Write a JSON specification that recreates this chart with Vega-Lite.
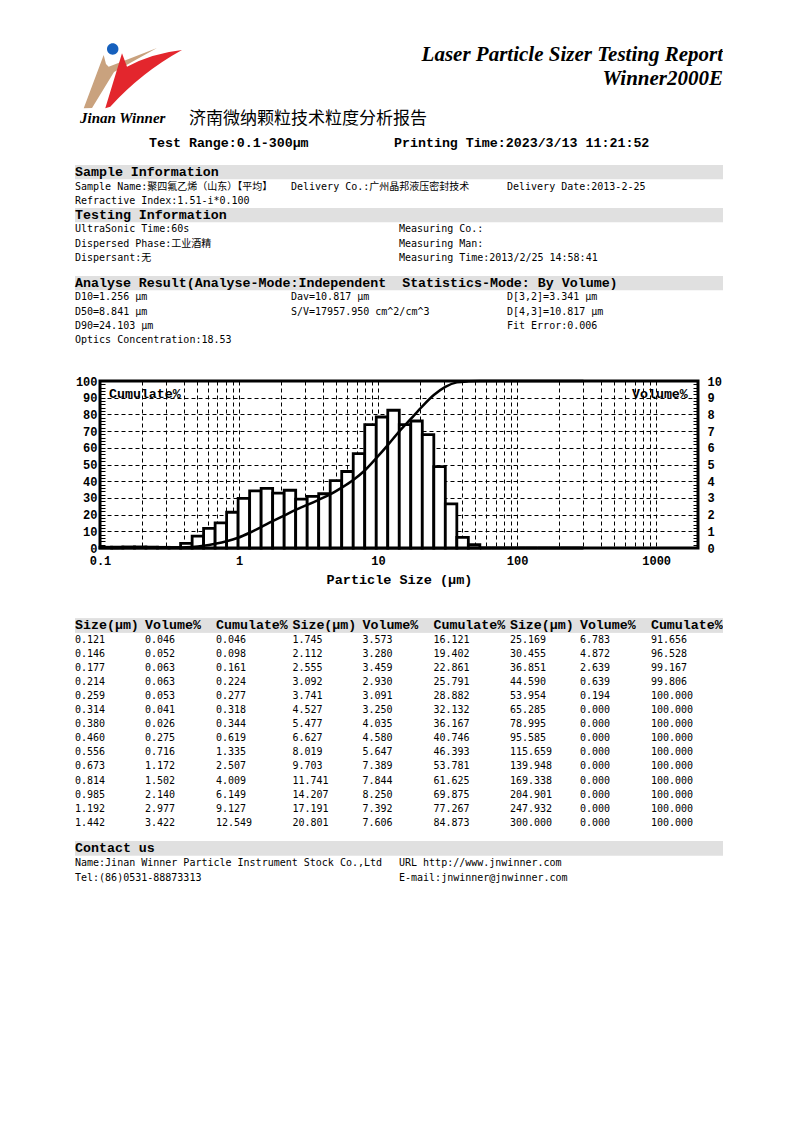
{
  "$schema": "https://vega.github.io/schema/vega-lite/v6.json",
  "autosize": {"type": "pad"},
  "padding": {"left": 73, "top": 0, "right": 0, "bottom": 0},
  "background": "white",
  "config": {
    "view": {"stroke": null},
    "text": {"color": "black"},
    "axis": {"labelColor": "black", "titleColor": "black", "labelOverlap": false}
  },
  "datasets": {
    "logo": [{"part": "tan"}, {"part": "red"}, {"part": "blue"}],
    "header": [
      {"role": "t1", "text": "Laser Particle Sizer Testing Report"},
      {"role": "t2", "text": "Winner2000E"},
      {"role": "brand", "text": "Jinan Winner"},
      {"role": "cn", "text": "济南微纳颗粒技术粒度分析报告"},
      {"role": "range", "text": "Test Range:0.1-300μm"},
      {"role": "ptime", "text": "Printing Time:2023/3/13 11:21:52"}
    ],
    "info": [
      {"sec": "si", "line": 0, "col": 0, "text": "Sample Information"},
      {"sec": "si", "line": 1, "col": 0, "text": "Sample Name:聚四氟乙烯（山东）【平均】"},
      {"sec": "si", "line": 1, "col": 1, "text": "Delivery Co.:广州晶邦液压密封技术"},
      {"sec": "si", "line": 1, "col": 2, "text": "Delivery Date:2013-2-25"},
      {"sec": "si", "line": 2, "col": 0, "text": "Refractive Index:1.51-i*0.100"},
      {"sec": "ti", "line": 0, "col": 0, "text": "Testing Information"},
      {"sec": "ti", "line": 1, "col": 0, "text": "UltraSonic Time:60s"},
      {"sec": "ti", "line": 1, "col": 1, "text": "Measuring Co.:"},
      {"sec": "ti", "line": 2, "col": 0, "text": "Dispersed Phase:工业酒精"},
      {"sec": "ti", "line": 2, "col": 1, "text": "Measuring Man:"},
      {"sec": "ti", "line": 3, "col": 0, "text": "Dispersant:无"},
      {"sec": "ti", "line": 3, "col": 1, "text": "Measuring Time:2013/2/25 14:58:41"},
      {"sec": "ar", "line": 0, "col": 0, "text": "Analyse Result(Analyse-Mode:Independent\u00a0 Statistics-Mode: By Volume)"},
      {"sec": "ar", "line": 1, "col": 0, "text": "D10=1.256 μm"},
      {"sec": "ar", "line": 1, "col": 1, "text": "Dav=10.817 μm"},
      {"sec": "ar", "line": 1, "col": 2, "text": "D[3,2]=3.341 μm"},
      {"sec": "ar", "line": 2, "col": 0, "text": "D50=8.841 μm"},
      {"sec": "ar", "line": 2, "col": 1, "text": "S/V=17957.950 cm^2/cm^3"},
      {"sec": "ar", "line": 2, "col": 2, "text": "D[4,3]=10.817 μm"},
      {"sec": "ar", "line": 3, "col": 0, "text": "D90=24.103 μm"},
      {"sec": "ar", "line": 3, "col": 2, "text": "Fit Error:0.006"},
      {"sec": "ar", "line": 4, "col": 0, "text": "Optics Concentration:18.53"},
      {"sec": "ct", "line": 0, "col": 0, "text": "Contact us"},
      {"sec": "ct", "line": 1, "col": 0, "text": "Name:Jinan Winner Particle Instrument Stock Co.,Ltd"},
      {"sec": "ct", "line": 1, "col": 1, "text": "URL http://www.jnwinner.com"},
      {"sec": "ct", "line": 2, "col": 0, "text": "Tel:(86)0531-88873313"},
      {"sec": "ct", "line": 2, "col": 1, "text": "E-mail:jnwinner@jnwinner.com"}
    ],
    "thead": [{"grp": 0}, {"grp": 1}, {"grp": 2}],
    "psd": [
      {"grp": 0, "r": 1, "lo": 0.1, "size": 0.121, "vol": 0.046, "cum": 0.046},
      {"grp": 0, "r": 2, "lo": 0.121, "size": 0.146, "vol": 0.052, "cum": 0.098},
      {"grp": 0, "r": 3, "lo": 0.146, "size": 0.177, "vol": 0.063, "cum": 0.161},
      {"grp": 0, "r": 4, "lo": 0.177, "size": 0.214, "vol": 0.063, "cum": 0.224},
      {"grp": 0, "r": 5, "lo": 0.214, "size": 0.259, "vol": 0.053, "cum": 0.277},
      {"grp": 0, "r": 6, "lo": 0.259, "size": 0.314, "vol": 0.041, "cum": 0.318},
      {"grp": 0, "r": 7, "lo": 0.314, "size": 0.380, "vol": 0.026, "cum": 0.344},
      {"grp": 0, "r": 8, "lo": 0.380, "size": 0.460, "vol": 0.275, "cum": 0.619},
      {"grp": 0, "r": 9, "lo": 0.460, "size": 0.556, "vol": 0.716, "cum": 1.335},
      {"grp": 0, "r": 10, "lo": 0.556, "size": 0.673, "vol": 1.172, "cum": 2.507},
      {"grp": 0, "r": 11, "lo": 0.673, "size": 0.814, "vol": 1.502, "cum": 4.009},
      {"grp": 0, "r": 12, "lo": 0.814, "size": 0.985, "vol": 2.140, "cum": 6.149},
      {"grp": 0, "r": 13, "lo": 0.985, "size": 1.192, "vol": 2.977, "cum": 9.127},
      {"grp": 0, "r": 14, "lo": 1.192, "size": 1.442, "vol": 3.422, "cum": 12.549},
      {"grp": 1, "r": 1, "lo": 1.442, "size": 1.745, "vol": 3.573, "cum": 16.121},
      {"grp": 1, "r": 2, "lo": 1.745, "size": 2.112, "vol": 3.280, "cum": 19.402},
      {"grp": 1, "r": 3, "lo": 2.112, "size": 2.555, "vol": 3.459, "cum": 22.861},
      {"grp": 1, "r": 4, "lo": 2.555, "size": 3.092, "vol": 2.930, "cum": 25.791},
      {"grp": 1, "r": 5, "lo": 3.092, "size": 3.741, "vol": 3.091, "cum": 28.882},
      {"grp": 1, "r": 6, "lo": 3.741, "size": 4.527, "vol": 3.250, "cum": 32.132},
      {"grp": 1, "r": 7, "lo": 4.527, "size": 5.477, "vol": 4.035, "cum": 36.167},
      {"grp": 1, "r": 8, "lo": 5.477, "size": 6.627, "vol": 4.580, "cum": 40.746},
      {"grp": 1, "r": 9, "lo": 6.627, "size": 8.019, "vol": 5.647, "cum": 46.393},
      {"grp": 1, "r": 10, "lo": 8.019, "size": 9.703, "vol": 7.389, "cum": 53.781},
      {"grp": 1, "r": 11, "lo": 9.703, "size": 11.741, "vol": 7.844, "cum": 61.625},
      {"grp": 1, "r": 12, "lo": 11.741, "size": 14.207, "vol": 8.250, "cum": 69.875},
      {"grp": 1, "r": 13, "lo": 14.207, "size": 17.191, "vol": 7.392, "cum": 77.267},
      {"grp": 1, "r": 14, "lo": 17.191, "size": 20.801, "vol": 7.606, "cum": 84.873},
      {"grp": 2, "r": 1, "lo": 20.801, "size": 25.169, "vol": 6.783, "cum": 91.656},
      {"grp": 2, "r": 2, "lo": 25.169, "size": 30.455, "vol": 4.872, "cum": 96.528},
      {"grp": 2, "r": 3, "lo": 30.455, "size": 36.851, "vol": 2.639, "cum": 99.167},
      {"grp": 2, "r": 4, "lo": 36.851, "size": 44.590, "vol": 0.639, "cum": 99.806},
      {"grp": 2, "r": 5, "lo": 44.590, "size": 53.954, "vol": 0.194, "cum": 100.000},
      {"grp": 2, "r": 6, "lo": 53.954, "size": 65.285, "vol": 0.000, "cum": 100.000},
      {"grp": 2, "r": 7, "lo": 65.285, "size": 78.995, "vol": 0.000, "cum": 100.000},
      {"grp": 2, "r": 8, "lo": 78.995, "size": 95.585, "vol": 0.000, "cum": 100.000},
      {"grp": 2, "r": 9, "lo": 95.585, "size": 115.659, "vol": 0.000, "cum": 100.000},
      {"grp": 2, "r": 10, "lo": 115.659, "size": 139.948, "vol": 0.000, "cum": 100.000},
      {"grp": 2, "r": 11, "lo": 139.948, "size": 169.338, "vol": 0.000, "cum": 100.000},
      {"grp": 2, "r": 12, "lo": 169.338, "size": 204.901, "vol": 0.000, "cum": 100.000},
      {"grp": 2, "r": 13, "lo": 204.901, "size": 247.932, "vol": 0.000, "cum": 100.000},
      {"grp": 2, "r": 14, "lo": 247.932, "size": 300.000, "vol": 0.000, "cum": 100.000}
    ]
  },
  "spacing": 0,
  "bounds": "flush",
  "center": true,
  "vconcat": [
    {
      "width": 648, "height": 165,
      "data": {"name": "header"},
      "layer": [
        {
          "data": {"name": "logo"},
          "mark": {"type": "point", "filled": true, "opacity": 1, "strokeWidth": 0},
          "encoding": {
            "x": {"datum": 58, "type": "quantitative", "scale": {"domain": [0, 648], "nice": false, "zero": false}, "axis": null},
            "y": {"datum": 78, "type": "quantitative", "scale": {"domain": [0, 165], "nice": false, "zero": false, "reverse": true}, "axis": null},
            "shape": {"field": "part", "type": "nominal", "legend": null, "scale": {"domain": ["tan", "red", "blue"], "range": [
              "M -0.896 0.551 L -0.533 -0.418 L -0.491 -0.255 L -0.442 -0.205 L 0.436 -0.545 L -0.345 -0.109 L -0.745 0.545 Z",
              "M -0.504 0.551 L -0.2 -0.449 L -0.109 -0.205 Q 0.35 -0.45 0.891 -0.509 Q 0.15 -0.1 -0.413 0.522 Z",
              "M -0.473 -0.527 A 0.104 0.104 0 1 0 -0.265 -0.527 A 0.104 0.104 0 1 0 -0.473 -0.527 Z"
            ]}},
            "color": {"field": "part", "type": "nominal", "legend": null, "scale": {"domain": ["tan", "red", "blue"], "range": ["#c9a27e", "#e3262d", "#1660bd"]}},
            "size": {"value": 12100}
          }
        },
        {
          "transform": [{"filter": "datum.role=='t1'"}],
          "mark": {"type": "text", "font": "Liberation Serif", "fontWeight": "bold", "fontStyle": "italic", "fontSize": 21, "align": "right", "baseline": "alphabetic"},
          "encoding": {"x": {"datum": 648, "type": "quantitative"}, "y": {"datum": 61, "type": "quantitative"}, "text": {"field": "text"}}
        },
        {
          "transform": [{"filter": "datum.role=='t2'"}],
          "mark": {"type": "text", "font": "Liberation Serif", "fontWeight": "bold", "fontStyle": "italic", "fontSize": 21, "align": "right", "baseline": "alphabetic"},
          "encoding": {"x": {"datum": 648, "type": "quantitative"}, "y": {"datum": 85, "type": "quantitative"}, "text": {"field": "text"}}
        },
        {
          "transform": [{"filter": "datum.role=='brand'"}],
          "mark": {"type": "text", "font": "Liberation Serif", "fontWeight": "bold", "fontStyle": "italic", "fontSize": 15, "align": "left", "baseline": "alphabetic"},
          "encoding": {"x": {"datum": 5, "type": "quantitative"}, "y": {"datum": 123, "type": "quantitative"}, "text": {"field": "text"}}
        },
        {
          "transform": [{"filter": "datum.role=='cn'"}],
          "mark": {"type": "text", "font": "Noto Sans CJK SC", "fontSize": 17, "align": "left", "baseline": "middle"},
          "encoding": {"x": {"datum": 114, "type": "quantitative"}, "y": {"datum": 119, "type": "quantitative"}, "text": {"field": "text"}}
        },
        {
          "transform": [{"filter": "datum.role=='range'"}],
          "mark": {"type": "text", "font": "Liberation Mono", "fontWeight": "bold", "fontSize": 13.3, "align": "left", "baseline": "middle"},
          "encoding": {"x": {"datum": 74, "type": "quantitative"}, "y": {"datum": 143, "type": "quantitative"}, "text": {"field": "text"}}
        },
        {
          "transform": [{"filter": "datum.role=='ptime'"}],
          "mark": {"type": "text", "font": "Liberation Mono", "fontWeight": "bold", "fontSize": 13.3, "align": "left", "baseline": "middle"},
          "encoding": {"x": {"datum": 319, "type": "quantitative"}, "y": {"datum": 143, "type": "quantitative"}, "text": {"field": "text"}}
        }
      ]
    },
    {
      "width": 648, "height": 43,
      "data": {"name": "info"},
      "transform": [{"filter": "datum.sec=='si'"}],
      "layer": [
        {
          "transform": [{"filter": "datum.line==0"}],
          "mark": {"type": "rect", "color": "#e0e0e0"},
          "encoding": {
            "x": {"datum": 0, "type": "quantitative", "scale": {"domain": [0, 3], "nice": false, "zero": false}, "axis": null},
            "x2": {"datum": 3},
            "y": {"datum": -0.5, "type": "quantitative", "scale": {"domain": [-0.5, 2.5], "nice": false, "zero": false, "reverse": true}, "axis": null},
            "y2": {"datum": 0.5}
          }
        },
        {
          "transform": [{"filter": "datum.line==0"}],
          "mark": {"type": "text", "font": "Liberation Mono", "fontWeight": "bold", "fontSize": 13.3, "align": "left", "baseline": "middle"},
          "encoding": {"x": {"field": "col", "type": "quantitative"}, "y": {"field": "line", "type": "quantitative"}, "text": {"field": "text"}}
        },
        {
          "transform": [{"filter": "datum.line>0"}],
          "mark": {"type": "text", "font": "DejaVu Sans Mono, Noto Sans CJK SC", "fontSize": 10, "align": "left", "baseline": "middle"},
          "encoding": {"x": {"field": "col", "type": "quantitative"}, "y": {"field": "line", "type": "quantitative"}, "text": {"field": "text"}}
        }
      ]
    },
    {
      "width": 648, "height": 68,
      "data": {"name": "info"},
      "transform": [{"filter": "datum.sec=='ti'"}],
      "layer": [
        {
          "transform": [{"filter": "datum.line==0"}],
          "mark": {"type": "rect", "color": "#e0e0e0"},
          "encoding": {
            "x": {"datum": 0, "type": "quantitative", "scale": {"domain": [0, 2], "nice": false, "zero": false}, "axis": null},
            "x2": {"datum": 2},
            "y": {"datum": -0.5, "type": "quantitative", "scale": {"domain": [-0.5, 4.245], "nice": false, "zero": false, "reverse": true}, "axis": null},
            "y2": {"datum": 0.5}
          }
        },
        {
          "transform": [{"filter": "datum.line==0"}],
          "mark": {"type": "text", "font": "Liberation Mono", "fontWeight": "bold", "fontSize": 13.3, "align": "left", "baseline": "middle"},
          "encoding": {"x": {"field": "col", "type": "quantitative"}, "y": {"field": "line", "type": "quantitative"}, "text": {"field": "text"}}
        },
        {
          "transform": [{"filter": "datum.line>0"}],
          "mark": {"type": "text", "font": "DejaVu Sans Mono, Noto Sans CJK SC", "fontSize": 10, "align": "left", "baseline": "middle"},
          "encoding": {"x": {"field": "col", "type": "quantitative"}, "y": {"field": "line", "type": "quantitative"}, "text": {"field": "text"}}
        }
      ]
    },
    {
      "width": 648, "height": 105,
      "data": {"name": "info"},
      "transform": [{"filter": "datum.sec=='ar'"}],
      "layer": [
        {
          "transform": [{"filter": "datum.line==0"}],
          "mark": {"type": "rect", "color": "#e0e0e0"},
          "encoding": {
            "x": {"datum": 0, "type": "quantitative", "scale": {"domain": [0, 3], "nice": false, "zero": false}, "axis": null},
            "x2": {"datum": 3},
            "y": {"datum": -0.5, "type": "quantitative", "scale": {"domain": [-0.5, 6.827], "nice": false, "zero": false, "reverse": true}, "axis": null},
            "y2": {"datum": 0.5}
          }
        },
        {
          "transform": [{"filter": "datum.line==0"}],
          "mark": {"type": "text", "font": "Liberation Mono", "fontWeight": "bold", "fontSize": 13.3, "align": "left", "baseline": "middle"},
          "encoding": {"x": {"field": "col", "type": "quantitative"}, "y": {"field": "line", "type": "quantitative"}, "text": {"field": "text"}}
        },
        {
          "transform": [{"filter": "datum.line>0"}],
          "mark": {"type": "text", "font": "DejaVu Sans Mono, Noto Sans CJK SC", "fontSize": 10, "align": "left", "baseline": "middle"},
          "encoding": {"x": {"field": "col", "type": "quantitative"}, "y": {"field": "line", "type": "quantitative"}, "text": {"field": "text"}}
        }
      ]
    },
    {
      "width": 598, "height": 167,
      "view": {"stroke": "black", "strokeWidth": 3},
      "data": {"name": "psd"},
      "layer": [
        {
          "layer": [
            {
              "mark": {"type": "rect", "fill": "white", "stroke": "black", "strokeWidth": 2.8},
              "encoding": {
                "x": {"field": "lo", "type": "quantitative", "scale": {"type": "log", "domain": [0.1, 2000], "nice": false},
                  "axis": {
                    "values": [0.1, 0.2, 0.3, 0.4, 0.5, 0.6, 0.7, 0.8, 0.9, 1, 2, 3, 4, 5, 6, 7, 8, 9, 10, 20, 30, 40, 50, 60, 70, 80, 90, 100, 200, 300, 400, 500, 600, 700, 800, 900, 1000, 2000],
                    "format": "~g",
                    "labelExpr": "(datum.value==0.1||datum.value==1||datum.value==10||datum.value==100||datum.value==1000)?datum.label:''",
                    "labelOverlap": false, "labelFlush": false, "labelBound": false,
                    "ticks": false, "tickSize": 0, "domain": false,
                    "grid": true, "gridColor": "black", "gridDash": [4, 3], "gridWidth": 1, "gridOpacity": 1,
                    "labelFont": "Liberation Mono", "labelFontWeight": "bold", "labelFontSize": 12, "labelPadding": 7,
                    "title": "Particle Size (μm)", "titleFont": "Liberation Mono", "titleFontWeight": "bold", "titleFontSize": 13.5, "titlePadding": 6
                  }},
                "x2": {"field": "size"},
                "y": {"field": "vol", "type": "quantitative", "scale": {"domain": [0, 10], "nice": false, "zero": false},
                  "axis": {
                    "orient": "right",
                    "values": [0, 0.2, 0.4, 0.6, 0.8, 1, 1.2, 1.4, 1.6, 1.8, 2, 2.2, 2.4, 2.6, 2.8, 3, 3.2, 3.4, 3.6, 3.8, 4, 4.2, 4.4, 4.6, 4.8, 5, 5.2, 5.4, 5.6, 5.8, 6, 6.2, 6.4, 6.6, 6.8, 7, 7.2, 7.4, 7.6, 7.8, 8, 8.2, 8.4, 8.6, 8.8, 9, 9.2, 9.4, 9.6, 9.8, 10],
                    "tickCount": 500,
                    "format": "~g",
                    "labelExpr": "datum.value%1==0?datum.label:''",
                    "labelOverlap": false, "labelFlush": false, "labelBound": false,
                    "grid": false, "domain": false,
                    "ticks": true, "tickSize": -5, "tickColor": "black", "tickWidth": 1,
                    "labelFont": "Liberation Mono", "labelFontWeight": "bold", "labelFontSize": 12, "labelPadding": 14,
                    "title": null
                  }},
                "y2": {"datum": 0}
              }
            },
            {
              "data": {"values": [{}]},
              "mark": {"type": "text", "text": "Volume%", "font": "Liberation Mono", "fontWeight": "bold", "fontSize": 13.3, "align": "right", "baseline": "middle"},
              "encoding": {"x": {"datum": 1690, "type": "quantitative"}, "y": {"datum": 9.2, "type": "quantitative"}}
            }
          ]
        },
        {
          "layer": [
            {
              "mark": {"type": "line", "interpolate": "monotone", "color": "black", "strokeWidth": 2.5},
              "encoding": {
                "x": {"field": "size", "type": "quantitative"},
                "y": {"field": "cum", "type": "quantitative", "scale": {"domain": [0, 100], "nice": false, "zero": false},
                  "axis": {
                    "orient": "left",
                    "values": [0, 2, 4, 6, 8, 10, 12, 14, 16, 18, 20, 22, 24, 26, 28, 30, 32, 34, 36, 38, 40, 42, 44, 46, 48, 50, 52, 54, 56, 58, 60, 62, 64, 66, 68, 70, 72, 74, 76, 78, 80, 82, 84, 86, 88, 90, 92, 94, 96, 98, 100],
                    "tickCount": 500,
                    "format": "~g",
                    "labelExpr": "datum.value%10==0?datum.label:''",
                    "labelOverlap": false, "labelFlush": false, "labelBound": false,
                    "grid": true, "gridColor": "black", "gridDash": [4, 3], "gridWidth": 1,
                    "gridOpacity": {"condition": {"test": "datum.value%10==0", "value": 1}, "value": 0},
                    "domain": false,
                    "ticks": true, "tickSize": -5, "tickColor": "black", "tickWidth": 1,
                    "labelFont": "Liberation Mono", "labelFontWeight": "bold", "labelFontSize": 12, "labelPadding": 8,
                    "title": null
                  }}
              }
            },
            {
              "data": {"values": [{}]},
              "mark": {"type": "text", "text": "Cumulate%", "font": "Liberation Mono", "fontWeight": "bold", "fontSize": 13.3, "align": "left", "baseline": "middle"},
              "encoding": {"x": {"datum": 0.116, "type": "quantitative"}, "y": {"datum": 92.2, "type": "quantitative"}}
            }
          ]
        }
      ],
      "resolve": {"scale": {"y": "independent"}, "axis": {"y": "independent"}}
    },
    {
      "width": 648, "height": 293,
      "layer": [
        {
          "data": {"name": "thead"},
          "mark": {"type": "rect", "color": "#e0e0e0"},
          "encoding": {
            "x": {"datum": 0, "type": "quantitative", "scale": {"domain": [0, 2.98], "nice": false, "zero": false}, "axis": null},
            "x2": {"datum": 2.98},
            "y": {"datum": -0.5, "type": "quantitative", "scale": {"domain": [-5.496, 15.284], "nice": false, "zero": false, "reverse": true}, "axis": null},
            "y2": {"datum": 0.5}
          }
        },
        {
          "data": {"name": "thead"},
          "mark": {"type": "text", "text": "Size(μm)", "font": "Liberation Mono", "fontWeight": "bold", "fontSize": 13.3, "align": "left", "baseline": "middle"},
          "encoding": {"x": {"field": "grp", "type": "quantitative"}, "y": {"datum": 0, "type": "quantitative"}}
        },
        {
          "data": {"name": "thead"},
          "mark": {"type": "text", "text": "Volume%", "font": "Liberation Mono", "fontWeight": "bold", "fontSize": 13.3, "align": "left", "baseline": "middle", "dx": 70},
          "encoding": {"x": {"field": "grp", "type": "quantitative"}, "y": {"datum": 0, "type": "quantitative"}}
        },
        {
          "data": {"name": "thead"},
          "mark": {"type": "text", "text": "Cumulate%", "font": "Liberation Mono", "fontWeight": "bold", "fontSize": 13.3, "align": "left", "baseline": "middle", "dx": 141},
          "encoding": {"x": {"field": "grp", "type": "quantitative"}, "y": {"datum": 0, "type": "quantitative"}}
        },
        {
          "data": {"name": "psd"},
          "mark": {"type": "text", "font": "DejaVu Sans Mono", "fontSize": 10, "align": "left", "baseline": "middle"},
          "encoding": {"x": {"field": "grp", "type": "quantitative"}, "y": {"field": "r", "type": "quantitative"}, "text": {"field": "size", "type": "quantitative", "format": ".3f"}}
        },
        {
          "data": {"name": "psd"},
          "mark": {"type": "text", "font": "DejaVu Sans Mono", "fontSize": 10, "align": "left", "baseline": "middle", "dx": 70},
          "encoding": {"x": {"field": "grp", "type": "quantitative"}, "y": {"field": "r", "type": "quantitative"}, "text": {"field": "vol", "type": "quantitative", "format": ".3f"}}
        },
        {
          "data": {"name": "psd"},
          "mark": {"type": "text", "font": "DejaVu Sans Mono", "fontSize": 10, "align": "left", "baseline": "middle", "dx": 141},
          "encoding": {"x": {"field": "grp", "type": "quantitative"}, "y": {"field": "r", "type": "quantitative"}, "text": {"field": "cum", "type": "quantitative", "format": ".3f"}}
        }
      ]
    },
    {
      "width": 648, "height": 44,
      "data": {"name": "info"},
      "transform": [{"filter": "datum.sec=='ct'"}],
      "layer": [
        {
          "transform": [{"filter": "datum.line==0"}],
          "mark": {"type": "rect", "color": "#e0e0e0"},
          "encoding": {
            "x": {"datum": 0, "type": "quantitative", "scale": {"domain": [0, 2], "nice": false, "zero": false}, "axis": null},
            "x2": {"datum": 2},
            "y": {"datum": -0.5, "type": "quantitative", "scale": {"domain": [-0.5, 2.5], "nice": false, "zero": false, "reverse": true}, "axis": null},
            "y2": {"datum": 0.5}
          }
        },
        {
          "transform": [{"filter": "datum.line==0"}],
          "mark": {"type": "text", "font": "Liberation Mono", "fontWeight": "bold", "fontSize": 13.3, "align": "left", "baseline": "middle"},
          "encoding": {"x": {"field": "col", "type": "quantitative"}, "y": {"field": "line", "type": "quantitative"}, "text": {"field": "text"}}
        },
        {
          "transform": [{"filter": "datum.line>0"}],
          "mark": {"type": "text", "font": "DejaVu Sans Mono", "fontSize": 10, "align": "left", "baseline": "middle"},
          "encoding": {"x": {"field": "col", "type": "quantitative"}, "y": {"field": "line", "type": "quantitative"}, "text": {"field": "text"}}
        }
      ]
    }
  ]
}
